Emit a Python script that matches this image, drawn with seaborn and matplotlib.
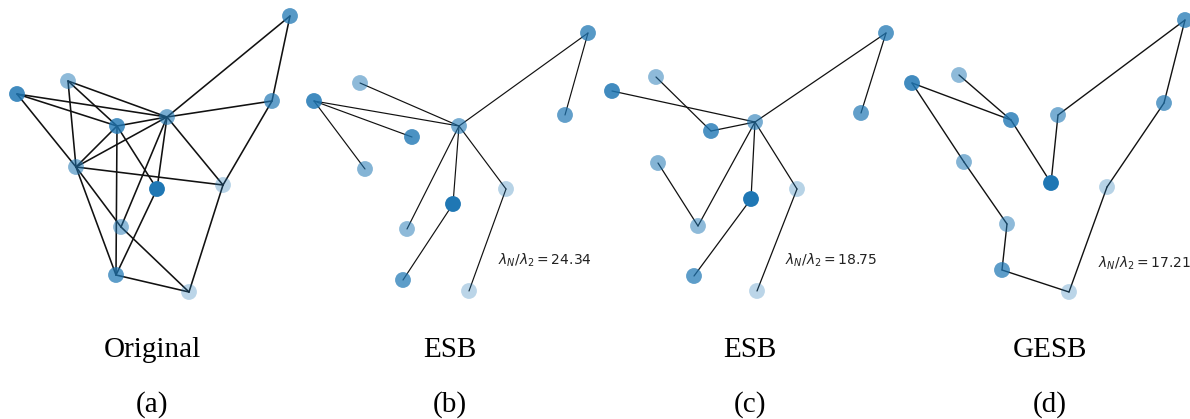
import matplotlib
matplotlib.use("Agg")
import matplotlib.pyplot as plt
import seaborn as sns
import pandas as pd
from matplotlib.colors import to_rgba

sns.set_theme(style="white")

# Node layouts (panel-local units, y grows downward) for the four graphs
nodes = list(range(1, 13))

pos_original_x = [290, 68, 17, 272, 167, 117, 76, 157, 223, 121, 116, 189]
pos_original_y = [16, 81, 94, 101, 117, 126, 167, 189, 185, 227, 275, 292]

pos_esb1_x = [290, 62, 16, 267, 161, 114, 67, 155, 208, 109, 105, 171]
pos_esb1_y = [33, 83, 101, 115, 126, 137, 169, 204, 189, 229, 280, 291]

pos_esb2_x = [290, 60, 16, 265, 159, 115, 62, 155, 201, 102, 98, 161]
pos_esb2_y = [33, 77, 91, 113, 122, 131, 163, 199, 189, 226, 276, 291]

pos_gesb_x = [291, 65, 18, 270, 164, 117, 70, 157, 213, 113, 108, 175]
pos_gesb_y = [20, 75, 83, 103, 115, 120, 162, 183, 187, 224, 270, 292]

# Node shading weights
node_alpha = [0.75, 0.5, 0.85, 0.7, 0.6, 0.8, 0.55, 1.0, 0.32, 0.5, 0.72, 0.3]

# Edge lists
edges_original = [(1, 5), (1, 4), (2, 5), (2, 6), (2, 7), (3, 5), (3, 6), (3, 7),
                  (4, 5), (4, 9), (5, 6), (5, 7), (5, 8), (5, 9), (5, 10),
                  (6, 7), (6, 8), (6, 11), (7, 9), (7, 10), (7, 11), (8, 11),
                  (9, 12), (10, 12), (11, 12)]
edges_esb1 = [(1, 5), (1, 4), (2, 5), (3, 5), (3, 6), (3, 7), (5, 10), (5, 8),
              (8, 11), (5, 9), (9, 12)]
edges_esb2 = [(1, 5), (1, 4), (3, 5), (2, 6), (6, 5), (5, 10), (7, 10), (5, 8),
              (8, 11), (5, 9), (9, 12)]
edges_gesb = [(3, 6), (2, 6), (6, 8), (8, 5), (5, 1), (1, 4), (4, 9), (9, 12),
              (12, 11), (11, 10), (10, 7), (7, 3)]

titles = ["Original", "ESB", "ESB", "GESB"]
sublabels = ["(a)", "(b)", "(c)", "(d)"]
ratios = [None, 24.34, 18.75, 17.21]

panels = [
    (pos_original_x, pos_original_y, edges_original),
    (pos_esb1_x, pos_esb1_y, edges_esb1),
    (pos_esb2_x, pos_esb2_y, edges_esb2),
    (pos_gesb_x, pos_gesb_y, edges_gesb),
]

W, H = 1190, 419
panel_w = [298, 298, 298, 296]
panel_h = 310
edge_lw = [1.15, 0.85, 0.9, 1.0]
ratio_pos = [None, (200, 260), (189, 260), (204, 263)]

base = "#1f77b4"
palette = {n: to_rgba(base, a) for n, a in zip(nodes, node_alpha)}

fig = plt.figure(figsize=(W / 100, H / 100), dpi=100)
fig.patch.set_facecolor("white")

left = 0
for i, (px, py, edges) in enumerate(panels):
    w = panel_w[i]
    ax = fig.add_axes([left / W, (H - panel_h) / H, w / W, panel_h / H])
    left += w

    node_df = pd.DataFrame({"node": nodes, "x": px, "y": py})
    rows = []
    for k, (u, v) in enumerate(edges):
        rows.append({"edge": k, "x": px[u - 1], "y": py[u - 1]})
        rows.append({"edge": k, "x": px[v - 1], "y": py[v - 1]})
    edge_df = pd.DataFrame(rows)

    sns.lineplot(data=edge_df, x="x", y="y", units="edge", estimator=None,
                 sort=False, color="#111111", lw=edge_lw[i], ax=ax, zorder=2)
    sns.scatterplot(data=node_df, x="x", y="y", hue="node", palette=palette,
                    s=130, edgecolor="none", legend=False, ax=ax, zorder=3)

    if ratios[i] is not None:
        tx, ty = ratio_pos[i]
        ax.text(tx, ty, r"$\lambda_N/\lambda_2 = %.2f$" % ratios[i],
                fontsize=10, color="#222222", ha="left", va="center")

    ax.set_xlim(0, w)
    ax.set_ylim(panel_h, 0)
    ax.set_axis_off()

centers = [152, 450, 750, 1050]
for c, t, s in zip(centers, titles, sublabels):
    fig.text(c / W, 1 - 357 / H, t, ha="center", va="baseline",
             fontsize=21, color="black", family="Liberation Serif")
    fig.text(c / W, 1 - 412 / H, s, ha="center", va="baseline",
             fontsize=21, color="black", family="Liberation Serif")

fig.savefig("out.png", dpi=100, facecolor="white")
